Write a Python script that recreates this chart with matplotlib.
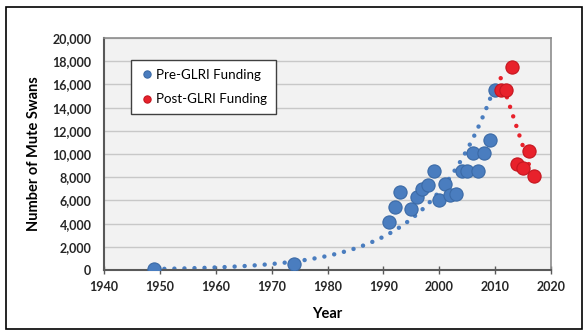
import numpy as np
import matplotlib
matplotlib.use("Agg")
import matplotlib.pyplot as plt
from matplotlib.patches import Rectangle

plt.rcParams['font.family'] = ['Lato', 'DejaVu Sans']

# Pre-GLRI funding counts
pre_years = [1949, 1974, 1991, 1992, 1993, 1995, 1996, 1997, 1998, 1999, 2000,
             2001, 2002, 2003, 2004, 2005, 2006, 2007, 2008, 2009, 2010]
pre_swans = [60, 550, 4100, 5400, 6750, 5300, 6300, 7000, 7300, 8550, 6000,
             7400, 6450, 6550, 8500, 8500, 10050, 8500, 10050, 11200, 15500]

# Post-GLRI funding counts
post_years = [2011, 2012, 2013, 2014, 2015, 2016, 2017]
post_swans = [15500, 15500, 17500, 9100, 8800, 10300, 8100]

blue = '#4a7dbf'
blue_edge = '#3b6aa6'
red = '#e8212b'
red_edge = '#c4161f'

fig = plt.figure(figsize=(5.87, 3.33), dpi=100)
ax = fig.add_axes([104 / 587, 1 - 270 / 333, 447 / 587, 232 / 333])
ax.set_facecolor('#f2f2f2')

# exponential trend on the pre-GLRI counts
coef = np.polyfit(pre_years, np.log(pre_swans), 1)
xt = np.linspace(pre_years[0], pre_years[-1], 200)
ax.plot(xt, np.exp(np.polyval(coef, xt)), color=blue, lw=3.2,
        linestyle=(0, (0.01, 2.25)), dash_capstyle='round', zorder=2)

# linear trend on the post-GLRI counts
lin = np.polyfit(post_years, post_swans, 1)
xr = np.linspace(post_years[0], post_years[-1], 50)
ax.plot(xr, np.polyval(lin, xr), color=red, lw=3.2,
        linestyle=(0, (0.01, 2.25)), dash_capstyle='round', zorder=2)

ax.plot(pre_years, pre_swans, 'o', ms=9.5, color=blue, mec=blue_edge, mew=0.8,
        label='Pre-GLRI Funding', zorder=3)
ax.plot(post_years, post_swans, 'o', ms=9.5, color=red, mec=red_edge, mew=0.8,
        label='Post-GLRI Funding', zorder=3)

ax.set_xlim(1940, 2020)
ax.set_ylim(0, 20000)
ax.set_xticks(np.arange(1940, 2021, 10))
ax.set_yticks(np.arange(0, 20001, 2000))
ax.yaxis.set_major_formatter(matplotlib.ticker.FuncFormatter(lambda v, p: f'{int(v):,}'))
ax.grid(axis='y', color='#c8c8c8', lw=1.0)
ax.set_axisbelow(True)

for s in ['top', 'right']:
    ax.spines[s].set_color('#8c8c8c')
    ax.spines[s].set_linewidth(1.2)
for s in ['left', 'bottom']:
    ax.spines[s].set_color('#595959')
    ax.spines[s].set_linewidth(1.5)

ax.tick_params(axis='y', length=0, pad=9, labelsize=9, labelcolor='#262626')
ax.tick_params(axis='x', direction='inout', length=6, width=1, color='#595959',
               pad=5, labelsize=9, labelcolor='#262626')
for lab in ax.get_xticklabels() + ax.get_yticklabels():
    lab.set_fontweight('bold')

ax.set_xlabel('Year', fontsize=10.5, fontweight='bold', labelpad=10)
ax.set_ylabel('Number of Mute Swans', fontsize=10.5, fontweight='bold', labelpad=8)

leg = ax.legend(loc='upper left', bbox_to_anchor=(0.06, 0.905), borderaxespad=0,
                fontsize=9.6, markerscale=0.55, handletextpad=0.05, borderpad=0.65,
                labelspacing=0.95, fancybox=False, framealpha=1, edgecolor='#404040',
                handlelength=1.2)
leg.get_frame().set_linewidth(1.0)

fig.patches.append(Rectangle((6 / 587, 1 - 329 / 333), 576 / 587, 322 / 333,
                             transform=fig.transFigure, fill=False, ec='black', lw=1.2))

fig.savefig('out.png', dpi=100)
